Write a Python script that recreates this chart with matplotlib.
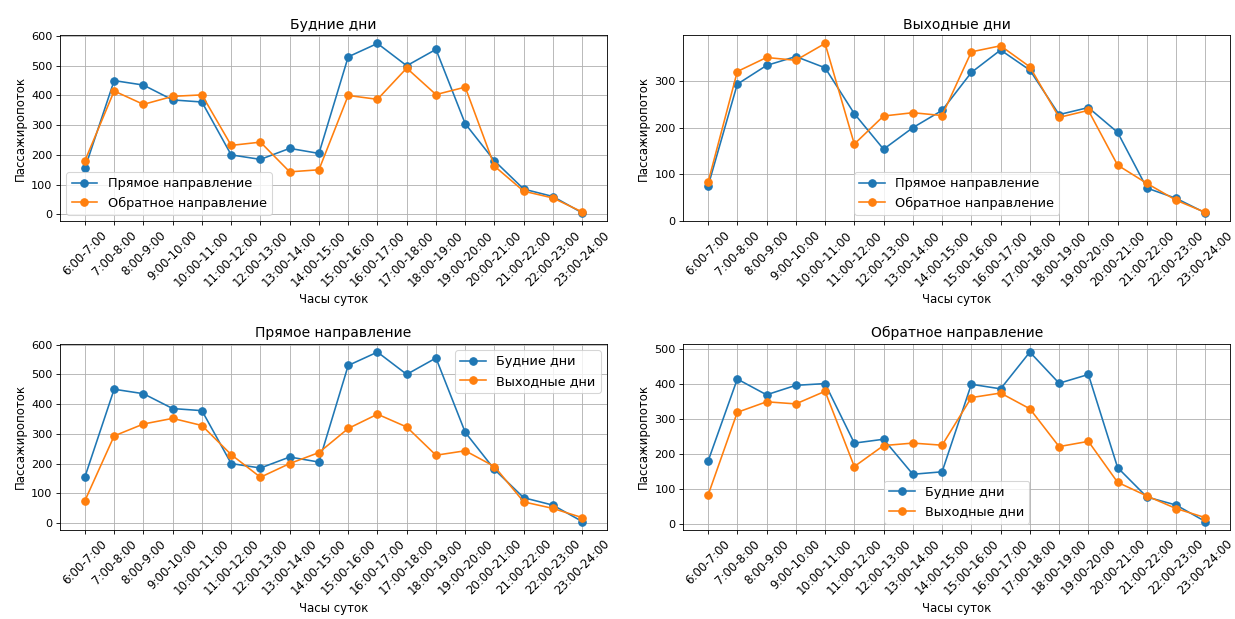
import matplotlib
matplotlib.use('Agg')
import matplotlib.pyplot as plt
from matplotlib.ticker import MultipleLocator

hours = ['6:00-7:00', '7:00-8:00', '8:00-9:00', '9:00-10:00', '10:00-11:00',
         '11:00-12:00', '12:00-13:00', '13:00-14:00', '14:00-15:00',
         '15:00-16:00', '16:00-17:00', '17:00-18:00', '18:00-19:00',
         '19:00-20:00', '20:00-21:00', '21:00-22:00', '22:00-23:00',
         '23:00-24:00']

# пассажиропоток по часам
weekday_fwd = [155, 450, 435, 385, 378, 200, 185, 222, 205, 530, 575, 500, 555, 305, 180, 85, 60, 5]
weekday_back = [180, 415, 370, 397, 402, 232, 243, 143, 150, 400, 387, 492, 403, 428, 162, 78, 55, 8]
weekend_fwd = [75, 293, 333, 352, 328, 230, 154, 200, 237, 318, 366, 323, 228, 243, 190, 71, 49, 18]
weekend_back = [83, 320, 350, 344, 380, 165, 225, 232, 226, 362, 375, 330, 222, 237, 120, 81, 45, 19]


def draw(ax, y1, y2, lab1, lab2, title, loc):
    ax.plot(hours, y1, marker='o', markersize=7, label=lab1)
    ax.plot(hours, y2, marker='o', markersize=7, label=lab2)
    ax.set_title(title, fontsize=13)
    ax.set_xlabel('Часы суток', fontsize=11)
    ax.set_ylabel('Пассажиропоток', fontsize=11)
    ax.yaxis.set_major_locator(MultipleLocator(100))
    ax.tick_params(axis='x', rotation=45, labelsize=11)
    ax.tick_params(axis='y', labelsize=10.5)
    ax.grid(True)
    ax.legend(loc=loc, fontsize=12)


fig, axs = plt.subplots(2, 2, figsize=(16, 619 / 77.2), dpi=77.2)
draw(axs[0, 0], weekday_fwd, weekday_back, 'Прямое направление', 'Обратное направление',
     'Будние дни', 'lower left')
draw(axs[0, 1], weekend_fwd, weekend_back, 'Прямое направление', 'Обратное направление',
     'Выходные дни', 'lower center')
draw(axs[1, 0], weekday_fwd, weekend_fwd, 'Будние дни', 'Выходные дни',
     'Прямое направление', 'upper right')
draw(axs[1, 1], weekday_back, weekend_back, 'Будние дни', 'Выходные дни',
     'Обратное направление', 'lower center')

plt.subplots_adjust(left=0.0486, right=0.996, top=0.9435, bottom=0.1438,
                    wspace=0.139, hspace=0.656)
plt.savefig('out.png')
